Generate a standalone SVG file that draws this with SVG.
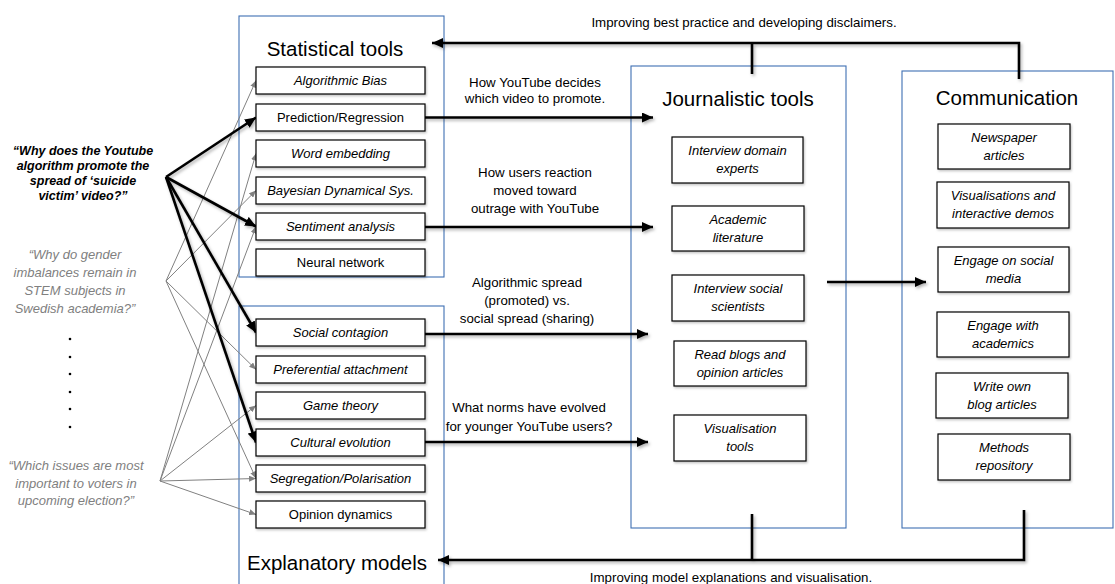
<svg xmlns="http://www.w3.org/2000/svg" width="1115" height="584" viewBox="0 0 1115 584">
<defs>
<marker id="ah" markerUnits="userSpaceOnUse" markerWidth="12" markerHeight="10" refX="11" refY="5" orient="auto"><path d="M0,0 L11,5 L0,10 Z" fill="#000"/></marker>
<marker id="ag" markerUnits="userSpaceOnUse" markerWidth="7" markerHeight="6" refX="7" refY="3" orient="auto"><path d="M0,0 L7,3 L0,6 Z" fill="#808080"/></marker>
<filter id="sh" filterUnits="userSpaceOnUse" x="0" y="0" width="1115" height="584"><feDropShadow dx="1.5" dy="2" stdDeviation="1.5" flood-color="#000" flood-opacity="0.3"/></filter>
<filter id="bs" x="-10%" y="-20%" width="125%" height="160%"><feDropShadow dx="1" dy="1.5" stdDeviation="1" flood-color="#000" flood-opacity="0.25"/></filter>
</defs>
<style>
.panel{fill:none;stroke:#3e6fb3;stroke-width:1.1}
.box{fill:#fff;stroke:#000;stroke-width:1.2}
text{font-family:"Liberation Sans",Arial,sans-serif;fill:#000}
.h{font-size:20.5px;text-anchor:middle}
.t{font-size:13px;text-anchor:middle}
.i{font-style:italic}
.lbl{font-size:13.3px;text-anchor:middle}
.q{font-size:12.5px;text-anchor:middle;font-style:italic;font-weight:bold}
.gq{font-size:13px;text-anchor:middle;font-style:italic;fill:#808080}
.thick{stroke:#000;stroke-width:2.6;fill:none}
.gray{stroke:#808080;stroke-width:1;fill:none}
</style>
<rect width="1115" height="584" fill="#fff"/>

<!-- panels -->
<g id="statistical-tools">
<rect class="panel" x="239" y="16" width="205" height="261"/>
<text class="h" x="335" y="56">Statistical tools</text>
</g>
<g id="explanatory-models">
<rect class="panel" x="239" y="306" width="205" height="290"/>
<text class="h" x="337" y="570">Explanatory models</text>
</g>
<g id="journalistic-tools">
<rect class="panel" x="631" y="66" width="215" height="462"/>
<text class="h" x="738" y="106">Journalistic tools</text>
</g>
<g id="communication">
<rect class="panel" x="902" y="71" width="211" height="457"/>
<text class="h" x="1007" y="105">Communication</text>
</g>

<!-- questions -->
<g id="q-youtube">
<text class="q" x="83" y="155">“Why does the Youtube</text>
<text class="q" x="83" y="170">algorithm promote the</text>
<text class="q" x="83" y="185">spread of ‘suicide</text>
<text class="q" x="83" y="200">victim’ video?”</text>
</g>
<g id="q-gender">
<text class="gq" x="75" y="259">“Why do gender</text>
<text class="gq" x="75" y="277">imbalances remain in</text>
<text class="gq" x="75" y="295">STEM subjects in</text>
<text class="gq" x="75" y="313">Swedish academia?”</text>
</g>
<g id="dots" fill="#000">
<circle cx="70" cy="339" r="1.3"/><circle cx="70" cy="357" r="1.3"/><circle cx="70" cy="374" r="1.3"/>
<circle cx="70" cy="392" r="1.3"/><circle cx="70" cy="409" r="1.3"/><circle cx="70" cy="427" r="1.3"/>
</g>
<g id="q-election">
<text class="gq" x="76" y="470">“Which issues are most</text>
<text class="gq" x="76" y="488">important to voters in</text>
<text class="gq" x="76" y="505">upcoming election?”</text>
</g>

<!-- connectors -->
<g id="connectors">
<g class="gray" marker-end="url(#ag)">
<line x1="166" y1="281" x2="256" y2="80.5"/>
<line x1="166" y1="281" x2="256" y2="190.5"/>
<line x1="166" y1="281" x2="256" y2="369.5"/>
<line x1="166" y1="281" x2="256" y2="478.5"/>
<line x1="160" y1="481" x2="256" y2="153.5"/>
<line x1="160" y1="481" x2="256" y2="226.5"/>
<line x1="160" y1="481" x2="256" y2="405.5"/>
<line x1="160" y1="481" x2="256" y2="478.5"/>
<line x1="160" y1="481" x2="256" y2="514.5"/>
</g>
<g filter="url(#sh)">
<g class="thick" marker-end="url(#ah)">
<line x1="166" y1="177" x2="256" y2="117.5"/>
<line x1="166" y1="177" x2="256" y2="226.5"/>
<line x1="166" y1="177" x2="256" y2="332.5"/>
<line x1="166" y1="177" x2="256" y2="442.5"/>
<line x1="425" y1="117.5" x2="653" y2="117.5"/>
<line x1="425" y1="227" x2="653" y2="227"/>
<line x1="425" y1="334" x2="648" y2="334"/>
<line x1="425" y1="442" x2="648" y2="442"/>
<line x1="827" y1="282" x2="926" y2="282"/>
<polyline points="1019,79 1019,43 432,43"/>
<polyline points="1024,510 1024,560 438,560"/>
</g>
<line class="thick" x1="752" y1="43" x2="752" y2="74"/>
<line class="thick" x1="752" y1="514" x2="752" y2="560"/>
</g>
</g>

<!-- connector labels -->
<g id="connector-labels">
<text class="lbl" x="744" y="27">Improving best practice and developing disclaimers.</text>
<text class="lbl" x="731" y="582">Improving model explanations and visualisation.</text>
<text class="lbl" x="535" y="87">How YouTube decides</text>
<text class="lbl" x="535" y="103">which video to promote.</text>
<text class="lbl" x="535" y="177">How users reaction</text>
<text class="lbl" x="535" y="195">moved toward</text>
<text class="lbl" x="535" y="213">outrage with YouTube</text>
<text class="lbl" x="527" y="287">Algorithmic spread</text>
<text class="lbl" x="527" y="305">(promoted) vs.</text>
<text class="lbl" x="527" y="323">social spread (sharing)</text>
<text class="lbl" x="529" y="412">What norms have evolved</text>
<text class="lbl" x="529" y="431">for younger YouTube users?</text>
</g>

<!-- statistical tools nodes -->
<g id="n-algorithmic-bias"><rect class="box" filter="url(#bs)" x="256" y="67" width="169" height="27"/><text class="t i" x="340.5" y="85">Algorithmic Bias</text></g>
<g id="n-prediction"><rect class="box" filter="url(#bs)" x="256" y="104" width="169" height="27"/><text class="t" x="340.5" y="122">Prediction/Regression</text></g>
<g id="n-word-embedding"><rect class="box" filter="url(#bs)" x="256" y="140" width="169" height="27"/><text class="t i" x="340.5" y="158">Word embedding</text></g>
<g id="n-bayesian"><rect class="box" filter="url(#bs)" x="256" y="177" width="169" height="27"/><text class="t i" x="340.5" y="195">Bayesian Dynamical Sys.</text></g>
<g id="n-sentiment"><rect class="box" filter="url(#bs)" x="256" y="213" width="169" height="27"/><text class="t i" x="340.5" y="231">Sentiment analysis</text></g>
<g id="n-neural"><rect class="box" filter="url(#bs)" x="256" y="249" width="169" height="27"/><text class="t" x="340.5" y="267">Neural network</text></g>

<!-- explanatory model nodes -->
<g id="n-social-contagion"><rect class="box" filter="url(#bs)" x="256" y="319" width="169" height="27"/><text class="t i" x="340.5" y="337">Social contagion</text></g>
<g id="n-preferential"><rect class="box" filter="url(#bs)" x="256" y="356" width="169" height="27"/><text class="t i" x="340.5" y="374">Preferential attachment</text></g>
<g id="n-game-theory"><rect class="box" filter="url(#bs)" x="256" y="392" width="169" height="27"/><text class="t i" x="340.5" y="410">Game theory</text></g>
<g id="n-cultural"><rect class="box" filter="url(#bs)" x="256" y="429" width="169" height="27"/><text class="t i" x="340.5" y="447">Cultural evolution</text></g>
<g id="n-segregation"><rect class="box" filter="url(#bs)" x="256" y="465" width="169" height="27"/><text class="t i" x="340.5" y="483">Segregation/Polarisation</text></g>
<g id="n-opinion"><rect class="box" filter="url(#bs)" x="256" y="501" width="169" height="27"/><text class="t" x="340.5" y="519">Opinion dynamics</text></g>

<!-- journalistic nodes -->
<g id="n-interview-experts"><rect class="box" filter="url(#bs)" x="672" y="137" width="131" height="46"/><text class="t i" x="737.5" y="155">Interview domain</text><text class="t i" x="737.5" y="173">experts</text></g>
<g id="n-academic-lit"><rect class="box" filter="url(#bs)" x="672" y="206" width="132" height="45"/><text class="t i" x="738" y="223.5">Academic</text><text class="t i" x="738" y="241.5">literature</text></g>
<g id="n-interview-social"><rect class="box" filter="url(#bs)" x="672" y="275" width="132" height="46"/><text class="t i" x="738" y="293">Interview social</text><text class="t i" x="738" y="311">scientists</text></g>
<g id="n-read-blogs"><rect class="box" filter="url(#bs)" x="674" y="341" width="132" height="45"/><text class="t i" x="740" y="358.5">Read blogs and</text><text class="t i" x="740" y="376.5">opinion articles</text></g>
<g id="n-visualisation-tools"><rect class="box" filter="url(#bs)" x="674" y="415" width="132" height="46"/><text class="t i" x="740" y="433">Visualisation</text><text class="t i" x="740" y="451">tools</text></g>

<!-- communication nodes -->
<g id="n-newspaper"><rect class="box" filter="url(#bs)" x="938" y="124" width="132" height="45"/><text class="t i" x="1004" y="141.5">Newspaper</text><text class="t i" x="1004" y="159.5">articles</text></g>
<g id="n-visualisations"><rect class="box" filter="url(#bs)" x="937" y="182" width="132" height="46"/><text class="t i" x="1003" y="200">Visualisations and</text><text class="t i" x="1003" y="218">interactive demos</text></g>
<g id="n-engage-social"><rect class="box" filter="url(#bs)" x="938" y="247" width="131" height="45"/><text class="t i" x="1003.5" y="264.5">Engage on social</text><text class="t i" x="1003.5" y="282.5">media</text></g>
<g id="n-engage-academics"><rect class="box" filter="url(#bs)" x="937" y="312" width="132" height="45"/><text class="t i" x="1003" y="329.5">Engage with</text><text class="t i" x="1003" y="347.5">academics</text></g>
<g id="n-write-blog"><rect class="box" filter="url(#bs)" x="936" y="373" width="132" height="45"/><text class="t i" x="1002" y="390.5">Write own</text><text class="t i" x="1002" y="408.5">blog  articles</text></g>
<g id="n-methods"><rect class="box" filter="url(#bs)" x="938" y="434" width="132" height="46"/><text class="t i" x="1004" y="452">Methods</text><text class="t i" x="1004" y="470">repository</text></g>
</svg>
